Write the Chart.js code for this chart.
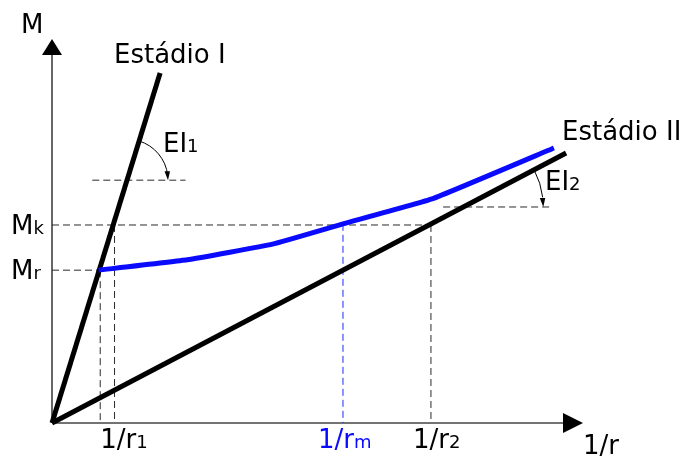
<!DOCTYPE html>
<html>
<head>
<meta charset="utf-8">
<script src="https://cdn.jsdelivr.net/npm/chart.js@4/dist/chart.umd.min.js"></script>
<style>body{margin:0;background:#fff}</style>
</head>
<body>
<canvas id="c" width="694" height="456"></canvas>
<script>
// x = curvature 1/r, y = moment M (arbitrary units)
const stageI = [[0, 0], [2.04, 9.14]];
const stageII = [[0, 0], [9.70, 7.05]];
const realCurve = [[0.88, 3.99], [2.55, 4.26], [4.16, 4.67], [5.49, 5.20], [7.17, 5.85], [9.47, 7.18]];

const Mr = 3.99, Mk = 5.17;
const r1 = 0.91, r1k = 1.18, rm = 5.49, rmM = 5.20, r2 = 7.15;

const xTickPos = [r1, rm, r2];
const xTickSub = ['1', 'm', '2'];
const xTickColor = ['#000', '#0a0aff', '#000'];
const yTickPos = [Mk, Mr];
const yTickSub = ['k', 'r'];

const ei1Y = 6.34, ei1X = [0.76, 2.52];
const ei2Y = 5.64, ei2X = [7.38, 9.42];

const pts = a => a.map(([x, y]) => ({x: x, y: y}));
const DASH = [7, 4];

function dashed(a, color) {
  return {data: pts(a), borderColor: color || '#2a2a2a', borderWidth: 1, borderDash: DASH,
          pointRadius: 0, showLine: true, clip: false};
}

function txt(ctx, base, sub, x, y, color) {
  ctx.fillStyle = color || '#000';
  ctx.textBaseline = 'alphabetic';
  ctx.textAlign = 'left';
  ctx.font = '26px "DejaVu Sans"';
  ctx.fillText(base, x, y);
  if (sub) {
    const w = ctx.measureText(base).width;
    ctx.font = '18px "DejaVu Sans"';
    ctx.fillText(sub, x + w, y);
  }
}

function arcMark(ctx, cx, cy, r, a0) {
  ctx.strokeStyle = '#000';
  ctx.lineWidth = 1;
  ctx.beginPath();
  ctx.arc(cx, cy, r, a0, -0.12);
  ctx.stroke();
  ctx.fillStyle = '#000';
  ctx.beginPath();
  ctx.moveTo(cx + r, cy);
  ctx.lineTo(cx + r - 3.5, cy - 9);
  ctx.lineTo(cx + r + 2, cy - 9);
  ctx.closePath();
  ctx.fill();
}

const axesPlugin = {
  id: 'axesArrows',
  beforeDatasetsDraw: (chart) => {
    const {ctx} = chart;
    const xs = chart.scales.x, ys = chart.scales.y;
    const ox = xs.getPixelForValue(0), oy = ys.getPixelForValue(0);
    ctx.save();
    // y axis
    ctx.strokeStyle = '#000';
    ctx.lineWidth = 1.2;
    ctx.beginPath();
    ctx.moveTo(ox, oy);
    ctx.lineTo(ox, 55);
    ctx.stroke();
    ctx.fillStyle = '#000';
    ctx.beginPath();
    ctx.moveTo(ox - 10, 55);
    ctx.lineTo(ox, 39);
    ctx.lineTo(ox + 10, 55);
    ctx.closePath();
    ctx.fill();
    // x axis
    ctx.strokeStyle = '#444';
    ctx.lineWidth = 1.6;
    ctx.beginPath();
    ctx.moveTo(ox, oy);
    ctx.lineTo(564, oy);
    ctx.stroke();
    ctx.beginPath();
    ctx.moveTo(563, oy - 10);
    ctx.lineTo(583, oy);
    ctx.lineTo(563, oy + 10);
    ctx.closePath();
    ctx.fill();
    ctx.restore();
  },
  afterDatasetsDraw: (chart) => {
    const {ctx} = chart;
    const xs = chart.scales.x, ys = chart.scales.y;
    ctx.save();
    // angle marks
    const s1 = stageI[1][1] / stageI[1][0];
    const c1x = xs.getPixelForValue(ei1Y / s1), c1y = ys.getPixelForValue(ei1Y);
    const a1 = Math.atan2(ys.getPixelForValue(stageI[1][1]) - ys.getPixelForValue(0),
                          xs.getPixelForValue(stageI[1][0]) - xs.getPixelForValue(0));
    arcMark(ctx, c1x, c1y, 41, a1);
    const s2 = stageII[1][1] / stageII[1][0];
    const c2x = xs.getPixelForValue(ei2Y / s2), c2y = ys.getPixelForValue(ei2Y);
    const a2 = Math.atan2(ys.getPixelForValue(stageII[1][1]) - ys.getPixelForValue(0),
                          xs.getPixelForValue(stageII[1][0]) - xs.getPixelForValue(0));
    arcMark(ctx, c2x, c2y, 80, a2);

    // labels
    txt(ctx, 'M', null, 21, 33);
    txt(ctx, 'Estádio I', null, 114, 63);
    txt(ctx, 'EI', '1', 163, 152);
    txt(ctx, 'Estádio II', null, 562, 140);
    txt(ctx, 'EI', '2', 545, 190);
    txt(ctx, '1/r', null, 583, 454);
    yTickPos.forEach((v, i) => {
      txt(ctx, 'M', yTickSub[i], 11, ys.getPixelForValue(v) + 9);
    });
    const shift = [0, -25, -18];
    xTickPos.forEach((v, i) => {
      txt(ctx, '1/r', xTickSub[i], xs.getPixelForValue(v) + shift[i], 448, xTickColor[i]);
    });
    ctx.restore();
  }
};

const config = {
  type: 'scatter',
  data: {
    datasets: [
      {data: pts(realCurve), borderColor: '#0a0aff', borderWidth: 5, pointRadius: 0,
       showLine: true, clip: false, tension: 0.1},
      {data: pts(stageI), borderColor: '#000', borderWidth: 5, pointRadius: 0, showLine: true, clip: false},
      {data: pts(stageII), borderColor: '#000', borderWidth: 5, pointRadius: 0, showLine: true, clip: false},
      dashed([[0, Mk], [r2, Mk]]),
      dashed([[0, Mr], [r1 - 0.03, Mr]]),
      dashed([[r1, Mr], [r1, 0]]),
      dashed([[r1k, Mk], [r1k, 0]]),
      dashed([[rm, rmM], [rm, 0]], '#1a2aff'),
      dashed([[r2, Mk], [r2, 0]]),
      dashed([[ei1X[0], ei1Y], [ei1X[1], ei1Y]]),
      dashed([[ei2X[0], ei2Y], [ei2X[1], ei2Y]])
    ]
  },
  options: {
    responsive: false,
    animation: false,
    devicePixelRatio: 1,
    layout: {padding: {left: 52, right: 112, top: 40, bottom: 33}},
    scales: {
      x: {type: 'linear', min: 0, max: 10, display: false},
      y: {type: 'linear', min: 0, max: 10, display: false}
    },
    plugins: {
      legend: {display: false},
      tooltip: {enabled: false}
    }
  },
  plugins: [axesPlugin]
};

window.onload = function() {
  const ctx = document.getElementById('c').getContext('2d');
  window.myChart = new Chart(ctx, config);
};
</script>
</body>
</html>
